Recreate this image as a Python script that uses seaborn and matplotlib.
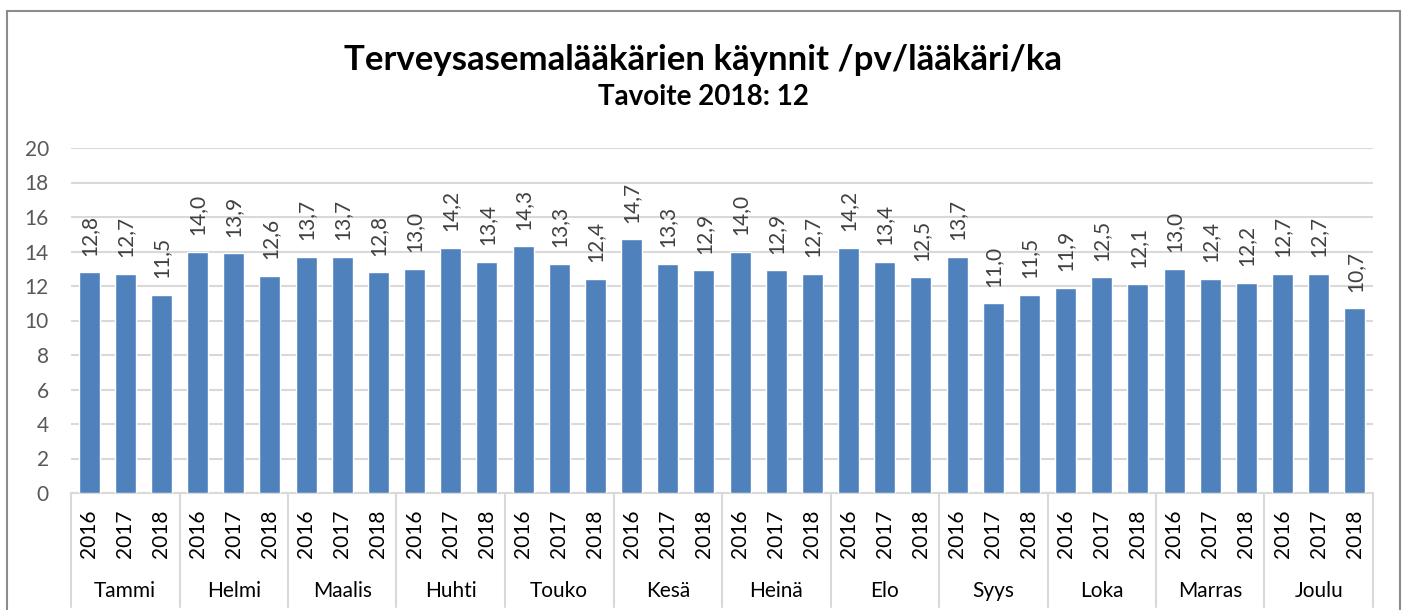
import matplotlib
matplotlib.use("Agg")
import matplotlib.pyplot as plt
import matplotlib.transforms as mtransforms
import seaborn as sns
import pandas as pd

months = ["Tammi", "Helmi", "Maalis", "Huhti", "Touko", "Kesä",
          "Heinä", "Elo", "Syys", "Loka", "Marras", "Joulu"]
years = ["2016", "2017", "2018"]
v2016 = [12.8, 14.0, 13.7, 13.0, 14.3, 14.7, 14.0, 14.2, 13.7, 11.9, 13.0, 12.7]
v2017 = [12.7, 13.9, 13.7, 14.2, 13.3, 13.3, 12.9, 13.4, 11.0, 12.5, 12.4, 12.7]
v2018 = [11.5, 12.6, 12.8, 13.4, 12.4, 12.9, 12.7, 12.5, 11.5, 12.1, 12.2, 10.7]
title = "Terveysasemalääkärien käynnit /pv/lääkäri/ka"
subtitle = "Tavoite 2018: 12"
yticks = [0, 2, 4, 6, 8, 10, 12, 14, 16, 18, 20]

rows = []
for i, m in enumerate(months):
    for y, vals in zip(years, (v2016, v2017, v2018)):
        rows.append({"key": f"{m}|{y}", "month": m, "year": y, "value": vals[i]})
df = pd.DataFrame(rows)

sns.set_theme(style="white")
plt.rcParams["font.family"] = ["Lato", "DejaVu Sans"]

fig = plt.figure(figsize=(14.07, 6.10), dpi=100)
ax = fig.add_axes([71 / 1407, 1 - 493 / 610, (1373 - 71) / 1407, (493 - 148) / 610])

sns.barplot(data=df, x="key", y="value", order=list(df["key"]), color="#4F81BD",
            saturation=1, width=0.58, ax=ax, zorder=3)

ax.set_ylim(0, 20)
ax.set_xlim(-0.5, len(df) - 0.5)
ax.set_yticks(yticks)
ax.set_yticklabels([str(t) for t in yticks], fontsize=15, color="#595959")
ax.yaxis.grid(True, color="#D9D9D9", linewidth=1.5, zorder=0)
ax.set_axisbelow(True)
ax.tick_params(axis="y", length=0, pad=16)
ax.tick_params(axis="x", length=0, pad=12)
ax.set_xticks(range(len(df)))
ax.set_xticklabels(df["year"], rotation=90, fontsize=15, color="#000000")
ax.set_xlabel("")
ax.set_ylabel("")
for s in ["top", "right", "left"]:
    ax.spines[s].set_visible(False)
ax.spines["bottom"].set_color("#D9D9D9")
ax.spines["bottom"].set_linewidth(1.5)

# value labels
for p, v in zip(ax.patches, df["value"]):
    ax.annotate(f"{v:.1f}".replace(".", ","),
                (p.get_x() + p.get_width() / 2, p.get_height()),
                xytext=(0, 12), textcoords="offset points", rotation=90,
                ha="center", va="bottom", fontsize=15, color="#404040")

# month group labels and dividers
trans = mtransforms.blended_transform_factory(ax.transData, ax.transAxes)
n = len(years)
for i, m in enumerate(months):
    ax.text(i * n + (n - 1) / 2, -0.285, m, transform=trans, ha="center",
            va="center", fontsize=15, color="#000000")
for i in range(len(months) + 1):
    xb = i * n - 0.5
    ax.plot([xb, xb], [0, -0.33], transform=trans, color="#D9D9D9",
            linewidth=1.5, clip_on=False)

fig.text(0.5, 1 - 60 / 610, title, ha="center", va="center", fontsize=25,
         fontweight="bold", color="#000000")
fig.text(0.5, 1 - 97 / 610, subtitle, ha="center", va="center", fontsize=20,
         fontweight="bold", color="#000000")

# chart border
border = plt.Rectangle((7 / 1407, -0.05), (1400 - 7) / 1407, 1.05 - 11 / 610,
                       transform=fig.transFigure, fill=False,
                       edgecolor="#8C8C8C", linewidth=1.5)
fig.add_artist(border)

fig.savefig("out.png", dpi=100)
